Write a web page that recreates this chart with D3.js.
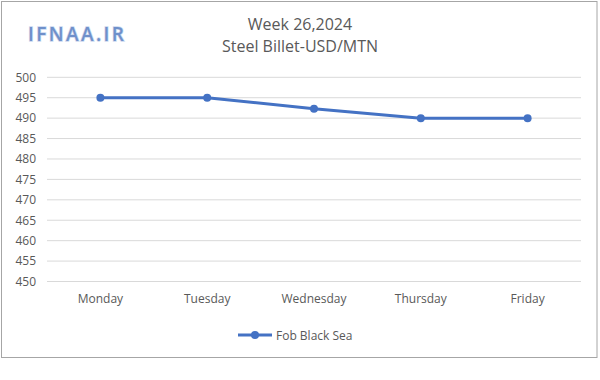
<!DOCTYPE html>
<html><head><meta charset="utf-8">
<script src="https://cdn.jsdelivr.net/npm/d3@7"></script>
<style>
html,body{margin:0;padding:0;background:#fff;}
svg{display:block;font-family:"Open Sans","Noto Sans",sans-serif;}
</style></head>
<body><svg id="c" width="600" height="380"></svg>
<script>
const categories = ["Monday","Tuesday","Wednesday","Thursday","Friday"];
const fobBlackSea = [495, 495, 492.3, 490, 490];
const yTicks = [450,455,460,465,470,475,480,485,490,495,500];
const seriesName = "Fob Black Sea";
const titleLines = ["Week 26,2024","Steel Billet-USD/MTN"];
const logoText = "IFNAA.IR";

const svg = d3.select("#c");
const textColor = "#595959";
const lineColor = "#4472C4";

svg.append("rect").attr("x",1.5).attr("y",1.5).attr("width",595.5).attr("height",356)
  .attr("fill","#fff").attr("stroke","#a6a6a6").attr("stroke-width",1);

const x = d3.scaleBand().domain(categories).range([47,581]);
const y = d3.scaleLinear().domain([450,500]).range([281.5,77.3]);

// gridlines
svg.append("g").selectAll("line").data(yTicks).join("line")
  .attr("x1",47).attr("x2",581)
  .attr("y1",d=>y(d)).attr("y2",d=>y(d))
  .attr("stroke","#d9d9d9").attr("stroke-width",1);

// y axis
const yAxis = svg.append("g").attr("transform","translate(36,0)")
  .call(d3.axisLeft(y).tickValues(yTicks).tickSize(0).tickPadding(0));
yAxis.select(".domain").remove();
yAxis.selectAll("text").attr("fill",textColor).style("font-size","12px").style("font-family","'Open Sans',sans-serif");

// x axis
const xAxis = svg.append("g").attr("transform","translate(0,294)")
  .call(d3.axisBottom(x).tickSize(0).tickPadding(0));
xAxis.select(".domain").remove();
xAxis.selectAll("text").attr("fill",textColor).style("font-size","12px").style("font-family","'Open Sans',sans-serif");

// line
const line = d3.line().x((d,i)=>x(categories[i])+x.bandwidth()/2).y(d=>y(d));
svg.append("path").datum(fobBlackSea).attr("d",line)
  .attr("fill","none").attr("stroke",lineColor).attr("stroke-width",3).attr("stroke-linejoin","round");
svg.append("g").selectAll("circle").data(fobBlackSea).join("circle")
  .attr("cx",(d,i)=>x(categories[i])+x.bandwidth()/2).attr("cy",d=>y(d)).attr("r",4)
  .attr("fill",lineColor);

// title
svg.append("g").selectAll("text").data(titleLines).join("text")
  .attr("x",300).attr("y",(d,i)=>30+i*22).attr("text-anchor","middle")
  .attr("fill",textColor).style("font-size","16px").text(d=>d);

// logo
svg.append("text").attr("x",28).attr("y",41).text(logoText)
  .attr("fill","#6f90ca").attr("stroke","#cdd9ef").attr("stroke-width",1.5)
  .style("paint-order","stroke").style("letter-spacing","2.4px")
  .style("font-size","19px").style("font-family","'Open Sans',sans-serif")
  .style("font-weight","600");

// legend
const lg = svg.append("g");
lg.append("line").attr("x1",238).attr("x2",272).attr("y1",335).attr("y2",335)
  .attr("stroke",lineColor).attr("stroke-width",3);
lg.append("circle").attr("cx",255).attr("cy",335).attr("r",4).attr("fill",lineColor);
lg.append("text").attr("x",276).attr("y",339.5).text(seriesName)
  .attr("fill",textColor).style("font-size","12px");
</script></body></html>
